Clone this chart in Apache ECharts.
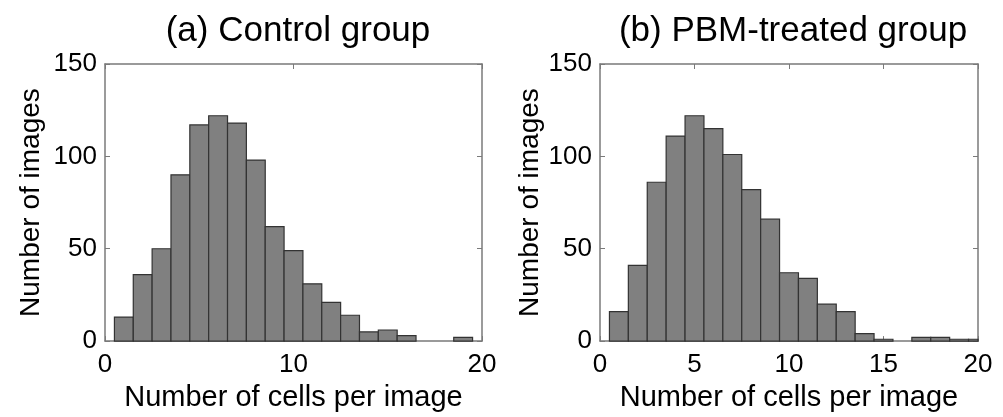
<!DOCTYPE html>
<html style="height: 100%">

<head>
    <meta charset="utf-8">
    <script src="https://cdn.jsdelivr.net/npm/echarts@6/dist/echarts.min.js"></script>
</head>

<body style="height: 100%; margin: 0; background: #fff">
    <div id="main" style="width: 1003px;height:417px;"></div>
    <script type="text/javascript">
        // bin centres (cells per image) and counts per bin
        var cellBins = [1, 2, 3, 4, 5, 6, 7, 8, 9, 10, 11, 12, 13, 14, 15, 16, 17, 18, 19, 20];
        var controlCounts = [13, 36, 50, 90, 117, 122, 118, 98, 62, 49, 31, 21, 14, 5, 6, 3, 0, 0, 2, 0];
        var pbmCounts = [16, 41, 86, 111, 122, 115, 101, 82, 66, 37, 34, 20, 16, 4, 1, 0, 2, 2, 1, 1];
        var titles = ['(a) Control group', '(b) PBM-treated group'];
        var xTickStep = [10, 5];

        var font = 'Liberation Sans, Arial, sans-serif';
        var boxColor = '#7a7a7a';

        function pairs(counts) {
            return cellBins.map(function (b, i) {
                return [b, counts[i]];
            });
        }

        function renderBar(params, api) {
            var x = api.value(0);
            var y = api.value(1);
            if (!y) return;
            var p0 = api.coord([x - 0.5, y]);
            var p1 = api.coord([x + 0.5, 0]);
            var rect = echarts.graphic.clipRectByRect({
                x: p0[0],
                y: p0[1],
                width: p1[0] - p0[0],
                height: p1[1] - p0[1]
            }, {
                x: params.coordSys.x,
                y: params.coordSys.y,
                width: params.coordSys.width,
                height: params.coordSys.height
            });
            if (!rect) return;
            return {
                type: 'rect',
                shape: rect,
                style: {
                    fill: '#808080',
                    stroke: '#333',
                    lineWidth: 1.2
                }
            };
        }

        function xAxes(gi) {
            var base = {
                type: 'value',
                gridIndex: gi,
                min: 0,
                max: 20,
                interval: xTickStep[gi],
                splitLine: { show: false },
                axisLine: { onZero: false, lineStyle: { color: boxColor, width: 1.5 } },
                axisTick: { inside: true, length: 5, lineStyle: { color: boxColor } }
            };
            var bottom = Object.assign({}, base, {
                position: 'bottom',
                name: 'Number of cells per image',
                nameLocation: 'middle',
                nameGap: 40,
                nameTextStyle: { fontFamily: font, fontSize: 29, color: '#000' },
                axisLabel: { fontFamily: font, fontSize: 26, color: '#000', margin: 11 }
            });
            var top = Object.assign({}, base, {
                position: 'top',
                axisLabel: { show: false }
            });
            return [bottom, top];
        }

        function yAxes(gi, gap) {
            var base = {
                type: 'value',
                gridIndex: gi,
                min: 0,
                max: 150,
                interval: 50,
                splitLine: { show: false },
                axisLine: { onZero: false, lineStyle: { color: boxColor, width: 1.5 } },
                axisTick: { inside: true, length: 5, lineStyle: { color: boxColor } }
            };
            var left = Object.assign({}, base, {
                position: 'left',
                name: 'Number of images',
                nameLocation: 'middle',
                nameGap: gap,
                nameTextStyle: { fontFamily: font, fontSize: 28, color: '#000' },
                axisLabel: { fontFamily: font, fontSize: 26, color: '#000', margin: 8 }
            });
            var right = Object.assign({}, base, {
                position: 'right',
                axisLabel: { show: false }
            });
            return [left, right];
        }

        var myChart = echarts.init(document.getElementById('main'));
        myChart.setOption({
            animation: false,
            title: [{
                text: titles[0],
                left: 293,
                top: 9,
                textAlign: 'center',
                textStyle: { fontFamily: font, fontSize: 35, fontWeight: 'normal', color: '#000' }
            }, {
                text: titles[1],
                left: 788,
                top: 9,
                textAlign: 'center',
                textStyle: { fontFamily: font, fontSize: 35, fontWeight: 'normal', color: '#000' }
            }],
            grid: [
                { left: 105, top: 64, width: 377, height: 284 },
                { left: 600, top: 64, width: 378, height: 284 }
            ],
            xAxis: xAxes(0).concat(xAxes(1)),
            yAxis: yAxes(0, 60).concat(yAxes(1, 56)),
            series: [{
                type: 'custom',
                xAxisIndex: 0,
                yAxisIndex: 0,
                renderItem: renderBar,
                data: pairs(controlCounts)
            }, {
                type: 'custom',
                xAxisIndex: 2,
                yAxisIndex: 2,
                renderItem: renderBar,
                data: pairs(pbmCounts)
            }]
        });
    </script>
</body>

</html>
